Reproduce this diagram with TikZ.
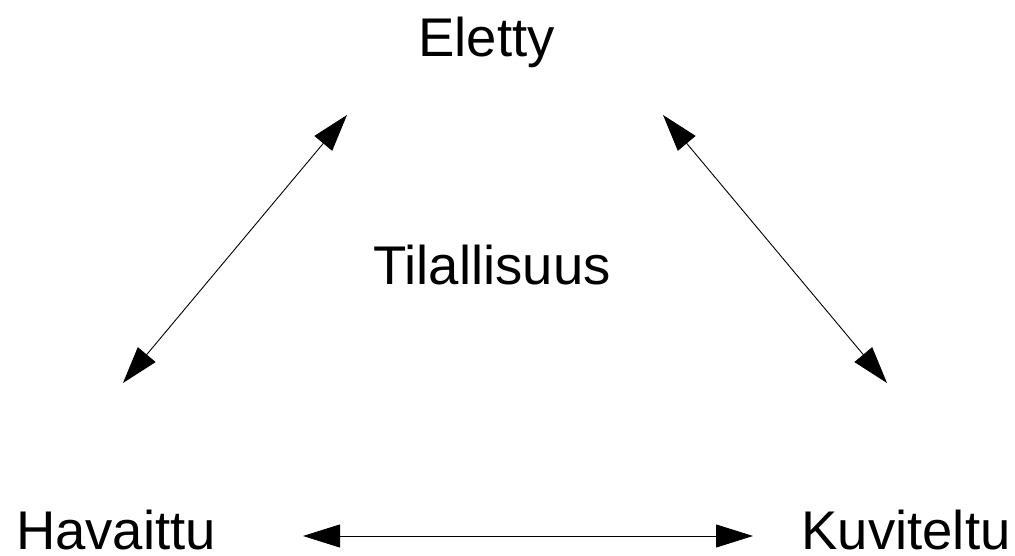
\documentclass[tikz,border=0pt]{standalone}
\usepackage{fontspec}
\setmainfont{Liberation Sans}
\usetikzlibrary{arrows.meta}
\begin{document}
\begin{tikzpicture}[x=1pt,y=1pt,
  lbl/.style={inner sep=0pt,anchor=base,font=\fontsize{54.5}{60}\selectfont},
  link/.style={line width=0.9pt,{Triangle[length=37pt,width=23pt]}-{Triangle[length=37pt,width=23pt]}}]
\useasboundingbox (0,0) rectangle (1015,556);
\node[lbl] (el) at (486.5,499) {Eletty};
\node[lbl] (ti) at (492,271) {Tilallisuus};
\node[lbl] (ha) at (116,6) {Havaittu};
\node[lbl] (ku) at (906,6) {Kuviteltu};
\coordinate (a1) at (123,173);
\coordinate (a2) at (347,441);
\coordinate (b1) at (663,441);
\coordinate (b2) at (887,173);
\coordinate (c1) at (303,20);
\coordinate (c2) at (753,20);
\draw[link] (a1) -- (a2);
\draw[link] (b1) -- (b2);
\draw[link] (c1) -- (c2);
\end{tikzpicture}
\end{document}
